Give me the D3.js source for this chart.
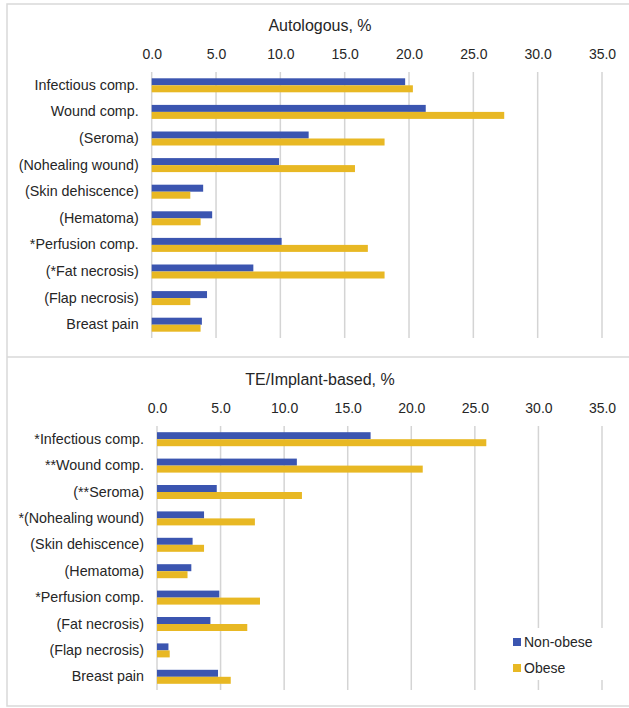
<!DOCTYPE html>
<html>
<head>
<meta charset="utf-8">
<script src="https://cdn.jsdelivr.net/npm/d3@7/dist/d3.min.js"></script>
<style>
  html, body { margin: 0; padding: 0; background: #fff; }
  svg { display: block; font-family: "Liberation Sans", Arial, sans-serif; }
</style>
</head>
<body>
<svg id="chart" width="629" height="708"></svg>
<script>
// Complication rates (%) by BMI group
const autoCategories = ["Infectious comp.", "Wound comp.", "(Seroma)", "(Nohealing wound)", "(Skin dehiscence)",
  "(Hematoma)", "*Perfusion comp.", "(*Fat necrosis)", "(Flap necrosis)", "Breast pain"];
const autoNonObese = [19.7, 21.3, 12.2, 9.9, 4.0, 4.7, 10.1, 7.9, 4.3, 3.9];
const autoObese    = [20.3, 27.4, 18.1, 15.8, 3.0, 3.8, 16.8, 18.1, 3.0, 3.8];

const implCategories = ["*Infectious comp.", "**Wound comp.", "(**Seroma)", "*(Nohealing wound)", "(Skin dehiscence)",
  "(Hematoma)", "*Perfusion comp.", "(Fat necrosis)", "(Flap necrosis)", "Breast pain"];
const implNonObese = [16.8, 11.0, 4.7, 3.7, 2.8, 2.7, 4.9, 4.2, 0.9, 4.8];
const implObese    = [25.9, 20.9, 11.4, 7.7, 3.7, 2.4, 8.1, 7.1, 1.0, 5.8];

const tickValues = [0, 5, 10, 15, 20, 25, 30, 35];
const seriesNames = ["Non-obese", "Obese"];
const seriesColors = ["#3b55b0", "#e8b824"];

const svg = d3.select("#chart");
const textColor = "#262626";
const gridColor = "#d4d4d4";
const frameColor = "#d9d9d9";

// outer frame and panel separator
svg.append("rect").attr("x", 7).attr("y", 4).attr("width", 640).attr("height", 702)
  .attr("fill", "none").attr("stroke", frameColor).attr("stroke-width", 1.5);
svg.append("line").attr("x1", 7).attr("x2", 629).attr("y1", 357).attr("y2", 357)
  .attr("stroke", frameColor).attr("stroke-width", 1.5);

function panel(opts) {
  const g = svg.append("g");
  const x = d3.scaleLinear().domain([0, 35]).range([opts.x0, 602]);
  const y = d3.scaleBand().domain(opts.categories).range([opts.top, opts.bottom]).paddingInner(0).paddingOuter(0);

  g.append("text").attr("x", 320).attr("y", opts.titleY).attr("text-anchor", "middle")
    .attr("font-size", 16).attr("fill", textColor).text(opts.title);

  // vertical gridlines
  g.append("g").selectAll("line").data(tickValues).join("line")
    .attr("x1", d => x(d)).attr("x2", d => x(d))
    .attr("y1", opts.top).attr("y2", opts.bottom)
    .attr("stroke", gridColor).attr("stroke-width", 1.5);

  // value axis on top
  const ax = g.append("g").attr("transform", `translate(0,${opts.top})`)
    .call(d3.axisTop(x).tickValues(tickValues).tickFormat(d3.format(".1f")).tickSize(0).tickPadding(13));
  ax.select(".domain").remove();
  ax.selectAll("text").attr("font-size", 14).attr("fill", textColor).attr("font-family", "Liberation Sans, Arial, sans-serif");

  // category axis
  const ay = g.append("g").attr("transform", `translate(${opts.x0},0)`)
    .call(d3.axisLeft(y).tickSize(0).tickPadding(13));
  ay.select(".domain").remove();
  ay.selectAll("text").attr("font-size", 14.3).attr("fill", textColor).attr("font-family", "Liberation Sans, Arial, sans-serif");

  const barH = 7;
  const series = [opts.nonObese, opts.obese];
  series.forEach((vals, si) => {
    g.append("g").selectAll("rect").data(opts.categories.map((c, i) => ({ c, v: vals[i] }))).join("rect")
      .attr("x", x(0))
      .attr("y", d => y(d.c) + y.bandwidth() / 2 - barH + si * barH)
      .attr("width", d => x(d.v) - x(0))
      .attr("height", barH)
      .attr("fill", seriesColors[si]);
  });
  return g;
}

panel({ title: "Autologous, %", titleY: 31, top: 72, bottom: 338, x0: 151.7,
  categories: autoCategories, nonObese: autoNonObese, obese: autoObese });
panel({ title: "TE/Implant-based, %", titleY: 385, top: 426, bottom: 690, x0: 157,
  categories: implCategories, nonObese: implNonObese, obese: implObese });

// legend
const lg = svg.append("g");
lg.append("rect").attr("x", 506).attr("y", 628).attr("width", 118).attr("height", 52).attr("fill", "#fff");
seriesNames.forEach((name, i) => {
  const yy = 642 + i * 26;
  lg.append("rect").attr("x", 513).attr("y", yy - 4).attr("width", 8).attr("height", 8).attr("fill", seriesColors[i]);
  lg.append("text").attr("x", 524).attr("y", yy + 5).attr("font-size", 14).attr("fill", textColor).text(name);
});
</script>
</body>
</html>
